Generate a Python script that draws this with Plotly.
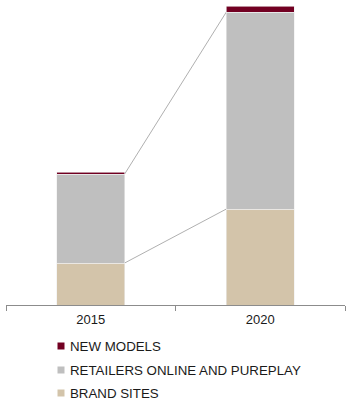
import plotly.graph_objects as go

# Channel mix by year (stacked, bottom to top)
years = ["2015", "2020"]
brand_sites = [4.2, 9.6]
retailers_online = [8.9, 19.7]
new_models = [0.2, 0.6]

series_names = ["BRAND SITES", "RETAILERS ONLINE AND PUREPLAY", "NEW MODELS"]
series_colors = ["#d3c4aa", "#bfbfbf", "#720022"]
series_values = [brand_sites, retailers_online, new_models]

FONT = "Liberation Sans, Arial, sans-serif"
BAR_WIDTH = 0.4

fig = go.Figure()
for name, color, vals in zip(series_names, series_colors, series_values):
    fig.add_trace(go.Bar(
        x=years, y=vals, name=name, width=BAR_WIDTH,
        marker=dict(color=color, line=dict(width=0.6, color="#eeeeee")),
        showlegend=False,
    ))

# Connector lines between the stacked segments of the two bars
cum_brand = brand_sites
cum_retail = [b + r for b, r in zip(brand_sites, retailers_online)]
for level in (cum_brand, cum_retail):
    fig.add_shape(type="line", xref="x", yref="y",
                  x0=0 + BAR_WIDTH / 2, y0=level[0],
                  x1=1 - BAR_WIDTH / 2, y1=level[1],
                  line=dict(color="#b0b0b0", width=1), layer="below")

# Legend drawn as small squares with labels under the axis
W, H = 346, 405
ML, MR, MT, MB = 6, 1, 5, 100
pw, ph = W - ML - MR, H - MT - MB

def px_to_paper(px, py):
    return (px - ML) / pw, (H - MB - py) / ph

legend_rows = [("NEW MODELS", "#720022", 346),
               ("RETAILERS ONLINE AND PUREPLAY", "#bfbfbf", 370),
               ("BRAND SITES", "#d3c4aa", 393)]
for label, color, ycen in legend_rows:
    x0, y0 = px_to_paper(57.5, ycen - 3.5)
    x1, y1 = px_to_paper(64.5, ycen + 3.5)
    fig.add_shape(type="rect", xref="paper", yref="paper",
                  x0=x0, y0=y0, x1=x1, y1=y1,
                  fillcolor=color, line=dict(width=0))
    tx, ty = px_to_paper(68, ycen)
    fig.add_annotation(xref="paper", yref="paper", x=tx, y=ty,
                       xanchor="left", yanchor="middle", showarrow=False,
                       text=label, font=dict(family=FONT, size=13.3, color="#1a1a1a"))

fig.update_layout(
    width=W, height=H,
    margin=dict(l=ML, r=MR, t=MT, b=MB),
    barmode="stack",
    plot_bgcolor="white", paper_bgcolor="white",
    font=dict(family=FONT, size=13, color="#1a1a1a"),
    xaxis=dict(type="category", tickson="boundaries", ticks="outside",
               ticklen=5, tickcolor="#8c8c8c", showline=True,
               linecolor="#8c8c8c", linewidth=1, showgrid=False,
               ticklabelstandoff=2,
               range=[-0.5, 1.5], fixedrange=True),
    yaxis=dict(visible=False, range=[0, 30], showgrid=False, zeroline=False),
)

fig.write_html("out.html")
